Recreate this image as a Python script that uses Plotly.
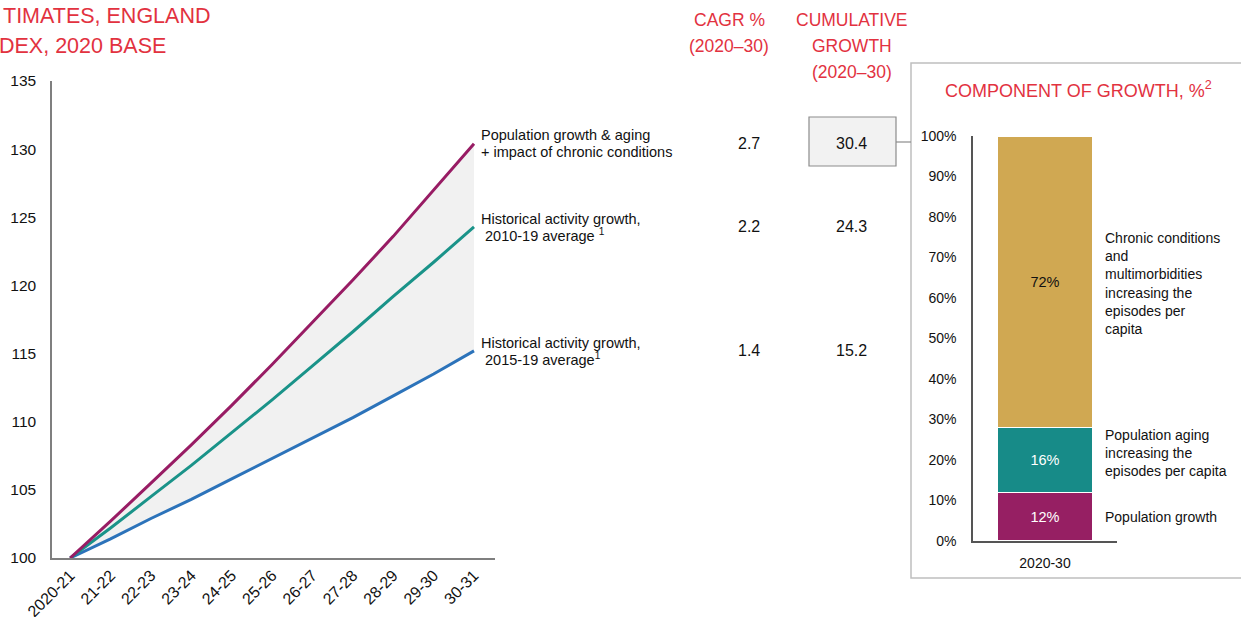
import plotly.graph_objects as go

W, H = 1241, 617
def px(x): return x / W
def py(y): return 1 - y / H

# ---- data ----
years = ["2020-21", "21-22", "22-23", "23-24", "24-25", "25-26", "26-27", "27-28", "28-29", "29-30", "30-31"]
chronic = [100, 102.7, 105.5, 108.3, 111.2, 114.2, 117.3, 120.4, 123.6, 127.0, 130.4]
hist_2010 = [100, 102.2, 104.5, 106.8, 109.2, 111.6, 114.1, 116.6, 119.2, 121.7, 124.3]
hist_2015 = [100, 101.4, 102.9, 104.3, 105.8, 107.3, 108.8, 110.3, 111.9, 113.5, 115.2]
series_labels = [["Population growth & aging", "+ impact of chronic conditions"],
                 ["Historical activity growth,", " 2010-19 average <sup>1</sup>"],
                 ["Historical activity growth,", " 2015-19 average<sup>1</sup>"]]
cagr = [2.7, 2.2, 1.4]
cumulative = [30.4, 24.3, 15.2]

comp_period = ["2020-30"]
comp_names = ["Population growth", "Population aging<br>increasing the<br>episodes per capita",
              "Chronic conditions<br>and<br>multimorbidities<br>increasing the<br>episodes per<br>capita"]
comp_values = [0.12, 0.16, 0.72]

# ---- styles ----
FONT = "Liberation Sans, Arial, sans-serif"
RED = "#E2323F"
line_colors = ["#981C64", "#1A9389", "#2C73BA"]
bar_colors = ["#961F63", "#178B88", "#D0A852"]
bar_text_colors = ["white", "white", "#111111"]

fig = go.Figure()

# shaded band between top and bottom line
fig.add_trace(go.Scatter(x=years, y=hist_2015, mode="lines", line=dict(width=0),
                         hoverinfo="skip", showlegend=False))
fig.add_trace(go.Scatter(x=years, y=chronic, mode="lines", line=dict(width=0),
                         fill="tonexty", fillcolor="#F1F1F1", hoverinfo="skip", showlegend=False))
for ys, c in zip([hist_2015, hist_2010, chronic], [line_colors[2], line_colors[1], line_colors[0]]):
    fig.add_trace(go.Scatter(x=years, y=ys, mode="lines", line=dict(color=c, width=3),
                             showlegend=False))

# stacked bar
for v, c, tc in zip(comp_values, bar_colors, bar_text_colors):
    fig.add_trace(go.Bar(x=comp_period, y=[v], marker=dict(color=c, line=dict(color="white", width=1.5)),
                         width=0.667, text=[f"{round(v*100)}%"], textposition="inside",
                         insidetextanchor="middle",
                         textfont=dict(color=tc, size=14.5, family=FONT),
                         xaxis="x2", yaxis="y2", showlegend=False))

annotations = []

def multiline(lines, x, y, yref, spacing, size, color, xanchor="left", xref="paper"):
    n = len(lines)
    for i, t in enumerate(lines):
        shift = ((n - 1) / 2 - i) * spacing
        annotations.append(dict(text=t, x=x, y=y, xref=xref, yref=yref, xanchor=xanchor,
                                yanchor="middle", showarrow=False, yshift=shift,
                                font=dict(family=FONT, size=size, color=color)))

# titles
annotations.append(dict(text="TIMATES, ENGLAND", x=px(1), y=py(16), xref="paper", yref="paper",
                        xanchor="left", yanchor="middle", showarrow=False,
                        font=dict(family=FONT, size=21.5, color=RED)))
annotations.append(dict(text="DEX, 2020 BASE", x=px(-3), y=py(46), xref="paper", yref="paper",
                        xanchor="left", yanchor="middle", showarrow=False,
                        font=dict(family=FONT, size=21.5, color=RED)))
multiline(["CAGR %", "(2020\u201330)"], px(729), py(33), "paper", 26, 17.5, RED, xanchor="center")
multiline(["CUMULATIVE", "GROWTH", "(2020\u201330)"], px(852), py(46), "paper", 26, 17.5, RED,
          xanchor="center")
annotations.append(dict(text="COMPONENT OF GROWTH, %<sup>2</sup>", x=px(1078), y=py(90), xref="paper",
                        yref="paper", xanchor="center", yanchor="middle", showarrow=False,
                        font=dict(family=FONT, size=18, color=RED)))

# line labels and values
ends = [chronic[-1], hist_2010[-1], hist_2015[-1]]
for lab, e, cg, cu in zip(series_labels, ends, cagr, cumulative):
    multiline(lab, px(479), e, "y", 16.5, 14.5, "#111111")
    annotations.append(dict(text=f"{cg}", x=px(749), y=e, xref="paper", yref="y", xanchor="center",
                            yanchor="middle", showarrow=False,
                            font=dict(family=FONT, size=16, color="#111111")))
    annotations.append(dict(text=f"{cu}", x=px(851), y=e, xref="paper", yref="y", xanchor="center",
                            yanchor="middle", showarrow=False,
                            font=dict(family=FONT, size=16, color="#111111")))

# component labels
cum = 0
shifts = [0, 7, -2]
for name, v, s in zip(comp_names, comp_values, shifts):
    annotations.append(dict(text=name, x=px(1103), y=cum + v / 2, xref="paper", yref="y2",
                            xanchor="left", yanchor="middle", align="left", showarrow=False, yshift=s,
                            font=dict(family=FONT, size=14, color="#111111")))
    cum += v

shapes = [
    dict(type="rect", xref="paper", yref="paper", x0=px(911), x1=px(1260), y0=py(578), y1=py(63),
         line=dict(color="#BFBFBF", width=1.5), fillcolor="rgba(0,0,0,0)", layer="below"),
    dict(type="rect", xref="paper", yref="paper", x0=px(809), x1=px(896), y0=py(166), y1=py(117),
         line=dict(color="#8C8C8C", width=1.2), fillcolor="#F2F2F2", layer="below"),
    dict(type="line", xref="paper", yref="paper", x0=px(896), x1=px(911), y0=py(142), y1=py(142),
         line=dict(color="#8C8C8C", width=1.2)),
]

fig.update_layout(
    width=W, height=H, margin=dict(l=0, r=0, t=0, b=0, autoexpand=False),
    paper_bgcolor="white", plot_bgcolor="rgba(0,0,0,0)",
    font=dict(family=FONT, color="#111111"),
    barmode="stack",
    xaxis=dict(domain=[px(52), px(495)], type="category", range=[-0.45, 10.52], automargin=False,
               showline=True, linecolor="#7F7F7F", linewidth=1.5, showgrid=False, zeroline=False,
               ticks="", tickangle=-45, tickfont=dict(size=16, family=FONT, color="#111111")),
    yaxis=dict(domain=[py(558), py(81)], range=[100, 135], dtick=5, showline=True, automargin=False,
               linecolor="#7F7F7F", linewidth=1.5, showgrid=False, zeroline=False, ticks="",
               ticklabelstandoff=11, tickfont=dict(size=15.5, family=FONT, color="#111111")),
    xaxis2=dict(domain=[px(973), px(1117)], type="category", range=[-0.5, 0.5], anchor="y2",
                automargin=False,
                showline=True, linecolor="#555555", linewidth=1.5, showgrid=False, ticks="",
                ticklabelstandoff=8, tickfont=dict(size=14, family=FONT, color="#111111")),
    yaxis2=dict(domain=[py(541), py(136)], range=[0, 1], dtick=0.1, tickformat=".0%", anchor="x2",
                automargin=False,
                showline=True, linecolor="#555555", linewidth=1.5, showgrid=False, zeroline=False,
                ticks="", ticklabelstandoff=12, tickfont=dict(size=14, family=FONT, color="#111111")),
    annotations=annotations, shapes=shapes,
)

fig.write_html("out.html", config={"displayModeBar": False},
               post_script="document.body.style.margin='0';")
